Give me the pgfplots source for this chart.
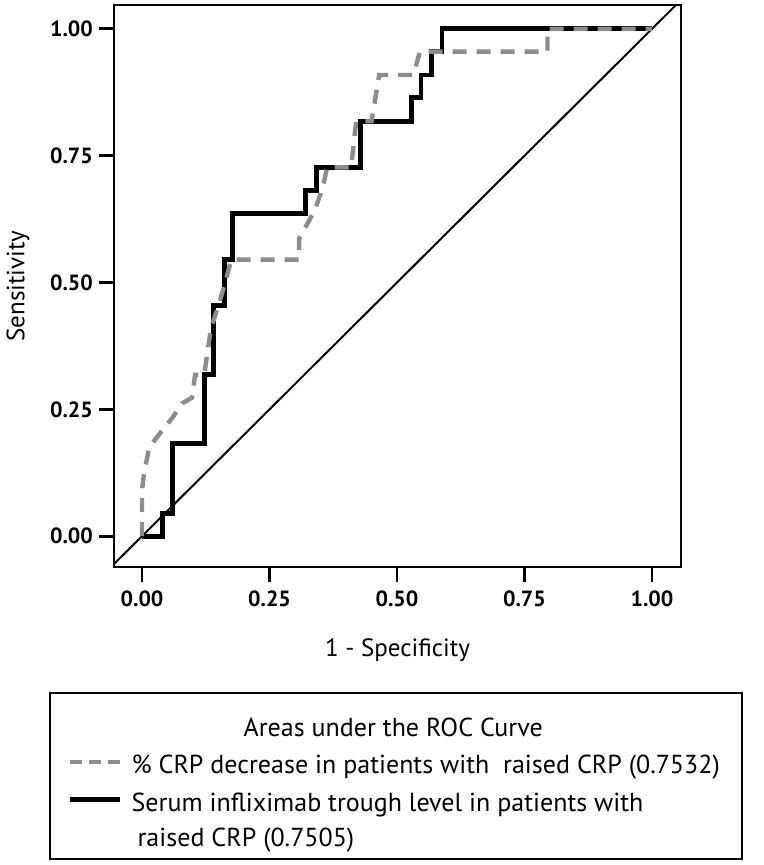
\documentclass[border=0pt]{standalone}
\usepackage{fontspec}
\setmainfont{PT Sans}
\usepackage{pgfplots}
\pgfplotsset{compat=1.18}
\definecolor{crpgray}{RGB}{140,140,140}
\newcommand{\lstrut}{\rule[-4.25pt]{0pt}{17.5pt}}
\begin{document}
\begin{tikzpicture}
\begin{axis}[
  scale only axis,
  width=283.5pt, height=281pt,
  xmin=-0.055, xmax=1.057, ymin=-0.061, ymax=1.047,
  xtick={0,0.25,0.5,0.75,1}, ytick={0,0.25,0.5,0.75,1},
  xticklabels={0.00,0.25,0.50,0.75,1.00},
  yticklabels={0.00,0.25,0.50,0.75,1.00},
  tick align=outside, major tick length=7.5pt,
  tick pos=left,
  tick style={line width=1.4pt, black},
  axis line style={line width=1.4pt},
  /pgf/number format/assume math mode=true,
  ticklabel style={font=\bfseries\fontsize{11}{13}\selectfont},
  xticklabel shift=1pt,
  yticklabel shift=-0.5pt,
  xlabel={1 - Specificity},
  xlabel style={at={(axis description cs:0.5,-0.148)}, anchor=center, font=\fontsize{12.5}{15}\selectfont},
  ylabel={Sensitivity},
  ylabel style={at={(axis description cs:-0.169,0.5)}, anchor=center, font=\fontsize{12.5}{15}\selectfont},
  legend image code/.code={\draw[#1] (0pt,0pt) -- (25pt,0pt);},
  legend cell align=left,
  legend style={at={(axis description cs:0.497,-0.2224)}, anchor=north,
    draw=black, line width=1pt, inner xsep=9pt, inner ysep=2.75pt,
    column sep=2.5pt, row sep=0pt,
    font=\fontsize{13}{17.5}\selectfont,
    cells={align=left, inner ysep=0pt, inner xsep=3pt}},
]
\coordinate (bbl) at (axis description cs:-0.201,-0.530);
\coordinate (btr) at (axis description cs:1.146,1.0089);
\addlegendimage{empty legend}
\addlegendentry{\rule[-10.25pt]{0pt}{27pt}\hspace*{56pt}Areas under the ROC Curve}
\addlegendimage{crpgray, line width=2pt, dash pattern=on 6pt off 3.5pt}
\addlegendentry{\lstrut\% CRP decrease in patients with\ \ raised CRP (0.7532)}
\addlegendimage{black, line width=2.4pt, yshift=8.75pt}
\addlegendentry{\lstrut Serum infliximab trough level in patients with\\\lstrut\hspace*{3pt}raised CRP (0.7505)}

% reference diagonal
\addplot[black, line width=1pt, forget plot] coordinates {(-0.1,-0.1) (1.1,1.1)};

% Serum infliximab trough level
\addplot[black, line width=2.4pt, forget plot] coordinates {
(0,0) (0.04,0) (0.04,0.045) (0.06,0.045) (0.06,0.182) (0.122,0.182)
(0.122,0.318) (0.14,0.318) (0.14,0.455) (0.162,0.455) (0.162,0.545)
(0.178,0.545) (0.178,0.636) (0.32,0.636) (0.32,0.682) (0.342,0.682)
(0.342,0.727) (0.428,0.727) (0.428,0.818) (0.528,0.818) (0.528,0.864)
(0.547,0.864) (0.547,0.909) (0.567,0.909) (0.567,0.955) (0.588,0.955)
(0.588,1) (1,1)};

% % CRP decrease
\addplot[crpgray, line width=2.2pt, dash pattern=on 7pt off 5pt, forget plot] coordinates {
(0,0) (0,0.091) (0.004,0.124) (0.014,0.175) (0.04,0.209) (0.06,0.234)
(0.079,0.262) (0.098,0.273) (0.104,0.318) (0.122,0.318) (0.135,0.409)
(0.15,0.455) (0.163,0.5) (0.175,0.545) (0.308,0.545) (0.308,0.586)
(0.34,0.645) (0.355,0.69) (0.363,0.727) (0.41,0.727) (0.42,0.818)
(0.45,0.818) (0.465,0.909) (0.532,0.909) (0.545,0.955) (0.795,0.955)
(0.795,1) (1,1)};
\end{axis}
\path (bbl) rectangle (btr);
\end{tikzpicture}
\end{document}
